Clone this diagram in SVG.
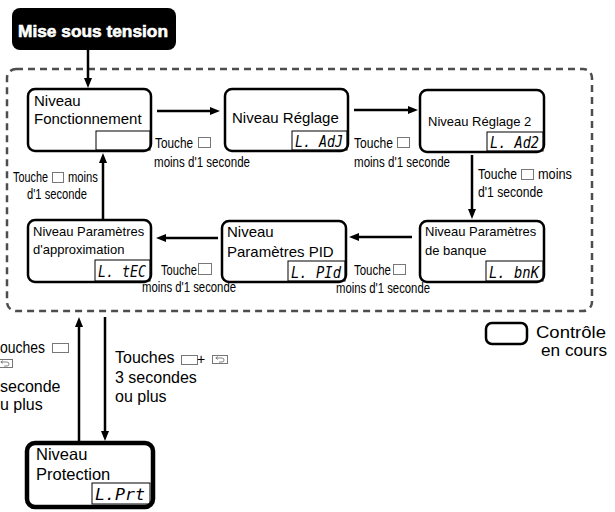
<svg xmlns="http://www.w3.org/2000/svg" width="615" height="512" viewBox="0 0 615 512">
<style>
.frame{fill:#fff;stroke:#000;stroke-width:2.5}
.disp{fill:none;stroke:#000;stroke-width:1}
.t{font-family:"Liberation Sans",Arial,sans-serif;fill:#000}
.f15{font-size:15px}
.f13{font-size:13px}
.lbl{font-family:"Liberation Sans",Arial,sans-serif;font-size:14px;fill:#000}
.big{font-family:"Liberation Sans",Arial,sans-serif;font-size:16px;fill:#000}
.seg{font-family:"DejaVu Sans Mono",monospace;font-style:italic;font-size:15px;fill:#000}
.kbox{fill:none;stroke:#777;stroke-width:1}
.conn line{stroke:#000;stroke-width:2.5;marker-end:url(#ah)}
</style>
<defs>
<marker id="ah" markerUnits="userSpaceOnUse" viewBox="0 0 10 8" refX="2" refY="4" markerWidth="10" markerHeight="8" orient="auto">
<path d="M0,0 L10,4 L0,8 z" fill="#000"/>
</marker>
<symbol id="key" viewBox="0 0 16 9" width="16" height="9">
<rect x="0.5" y="0.5" width="15" height="8" fill="none" stroke="#777" stroke-width="1"/>
<path d="M4,3 H10 A2,2 0 1 1 10,7 H7 M5.8,1.6 L3.8,3 L5.8,4.4" fill="none" stroke="#777" stroke-width="0.9"/>
</symbol>
</defs>
<rect x="7" y="69" width="585" height="242" rx="9" fill="none" stroke="#4d4d4d" stroke-width="2.5" stroke-dasharray="7 5"/>
<g id="power">
<rect x="12" y="8" width="164" height="42" rx="8" fill="#000"/>
<text x="18" y="37" font-family="Liberation Sans,Arial,sans-serif" font-weight="bold" font-size="17" fill="#fff" stroke="#fff" stroke-width="0.6" textLength="150" lengthAdjust="spacingAndGlyphs">Mise sous tension</text>
</g>
<g id="fonctionnement">
<rect class="frame" x="28" y="89" width="123" height="62" rx="7"/>
<rect class="disp" x="96" y="131" width="54" height="19"/>
<text class="t f15" x="34" y="106">Niveau</text>
<text class="t f15" x="34" y="124">Fonctionnement</text>
</g>
<g id="reglage">
<rect class="frame" x="225" y="89" width="123" height="62" rx="7"/>
<rect class="disp" x="292" y="131" width="55" height="19"/>
<text class="t f15" x="232" y="123">Niveau Réglage</text>
<text class="seg" x="295" y="147" textLength="48" lengthAdjust="spacingAndGlyphs">L. AdJ</text>
</g>
<g id="reglage2">
<rect class="frame" x="420" y="90" width="124" height="62" rx="7"/>
<rect class="disp" x="487" y="132" width="56" height="19"/>
<text class="t f13" x="428" y="126">Niveau Réglage 2</text>
<text class="seg" x="490" y="148" textLength="49" lengthAdjust="spacingAndGlyphs">L. Ad2</text>
</g>
<g id="banque">
<rect class="frame" x="420" y="221" width="124" height="61" rx="7"/>
<rect class="disp" x="486" y="261" width="57" height="20"/>
<text class="t f13" x="425" y="236">Niveau Paramètres</text>
<text class="t f13" x="425" y="255">de banque</text>
<text class="seg" x="489" y="278" textLength="50" lengthAdjust="spacingAndGlyphs">L. bnK</text>
</g>
<g id="pid">
<rect class="frame" x="222" y="221" width="124" height="61" rx="7"/>
<rect class="disp" x="288" y="261" width="57" height="20"/>
<text class="t f15" x="227" y="237">Niveau</text>
<text class="t f15" x="227" y="257">Paramètres PID</text>
<text class="seg" x="291" y="278" textLength="50" lengthAdjust="spacingAndGlyphs">L. PId</text>
</g>
<g id="approximation">
<rect class="frame" x="28" y="220" width="123" height="62" rx="7"/>
<rect class="disp" x="95" y="260" width="55" height="21"/>
<text class="t f13" x="33" y="236">Niveau Paramètres</text>
<text class="t f13" x="33" y="254">d'approximation</text>
<text class="seg" x="98" y="277" textLength="48" lengthAdjust="spacingAndGlyphs">L. tEC</text>
</g>
<g id="protection">
<rect x="27" y="443" width="126" height="64" rx="8" fill="#fff" stroke="#000" stroke-width="4.5"/>
<rect class="disp" x="92" y="483" width="58" height="21"/>
<text class="t" font-size="16.5" x="36" y="460">Niveau</text>
<text class="t" font-size="16.5" x="36" y="480">Protection</text>
<text class="seg" x="95" y="500" textLength="50" lengthAdjust="spacingAndGlyphs">L.Prt</text>
</g>
<g id="legend">
<rect x="486" y="323" width="41" height="21" rx="6" fill="#fff" stroke="#000" stroke-width="2.5"/>
<text class="t" font-size="16.5" x="536" y="338" textLength="70" lengthAdjust="spacingAndGlyphs">Contrôle</text>
<text class="t" font-size="16.5" x="541" y="356" textLength="66" lengthAdjust="spacingAndGlyphs">en cours</text>
</g>
<g class="conn">
<line x1="88" y1="50" x2="88" y2="80"/>
<line x1="157" y1="111" x2="212" y2="111"/>
<line x1="354" y1="110" x2="410" y2="110"/>
<line x1="472" y1="155" x2="472" y2="211"/>
<line x1="412" y1="237" x2="357" y2="237"/>
<line x1="218" y1="238" x2="164" y2="238"/>
<line x1="103" y1="219" x2="103" y2="161"/>
<line x1="79" y1="441" x2="79" y2="325"/>
<line x1="105" y1="317" x2="105" y2="433"/>
</g>
<g id="labels">
<text class="lbl" x="155" y="148" textLength="38" lengthAdjust="spacingAndGlyphs">Touche</text>
<rect class="kbox" x="198.5" y="137.5" width="12" height="10"/>
<text class="lbl" x="154" y="167" textLength="96" lengthAdjust="spacingAndGlyphs">moins d'1 seconde</text>
<text class="lbl" x="354" y="148" textLength="39" lengthAdjust="spacingAndGlyphs">Touche</text>
<rect class="kbox" x="397.5" y="137.5" width="12" height="10"/>
<text class="lbl" x="354" y="167" textLength="96" lengthAdjust="spacingAndGlyphs">moins d'1 seconde</text>
<text class="lbl" x="478" y="179" textLength="39" lengthAdjust="spacingAndGlyphs">Touche</text>
<rect class="kbox" x="521.5" y="169.5" width="12" height="10"/>
<text class="lbl" x="538" y="179" textLength="34" lengthAdjust="spacingAndGlyphs">moins</text>
<text class="lbl" x="478" y="197" textLength="65" lengthAdjust="spacingAndGlyphs">d'1 seconde</text>
<text class="lbl" x="354" y="275" textLength="37" lengthAdjust="spacingAndGlyphs">Touche</text>
<rect class="kbox" x="393.5" y="264.5" width="12" height="10"/>
<text class="lbl" x="336" y="293" textLength="94" lengthAdjust="spacingAndGlyphs">moins d'1 seconde</text>
<text class="lbl" x="161" y="275" textLength="36" lengthAdjust="spacingAndGlyphs">Touche</text>
<rect class="kbox" x="198.5" y="263.5" width="13" height="11"/>
<text class="lbl" x="142" y="292" textLength="94" lengthAdjust="spacingAndGlyphs">moins d'1 seconde</text>
<text class="lbl" x="13" y="182" textLength="35" lengthAdjust="spacingAndGlyphs">Touche</text>
<rect class="kbox" x="52.5" y="172.5" width="11" height="10"/>
<text class="lbl" x="68" y="182" textLength="30" lengthAdjust="spacingAndGlyphs">moins</text>
<text class="lbl" x="27" y="199" textLength="60" lengthAdjust="spacingAndGlyphs">d'1 seconde</text>
<text class="big" x="115" y="363">Touches</text>
<rect class="kbox" x="181.5" y="355.5" width="16" height="9"/>
<text class="t" font-size="14" x="197" y="364">+</text>
<use href="#key" x="212" y="355"/>
<text class="big" x="115" y="383">3 secondes</text>
<text class="big" x="115" y="402">ou plus</text>
<text class="big" x="0" y="353" textLength="45" lengthAdjust="spacingAndGlyphs">ouches</text>
<rect class="kbox" x="52.5" y="343.5" width="16" height="9"/>
<use href="#key" x="-3" y="359"/>
<text class="big" x="0" y="392">seconde</text>
<text class="big" x="0" y="410">u plus</text>
</g>
</svg>
